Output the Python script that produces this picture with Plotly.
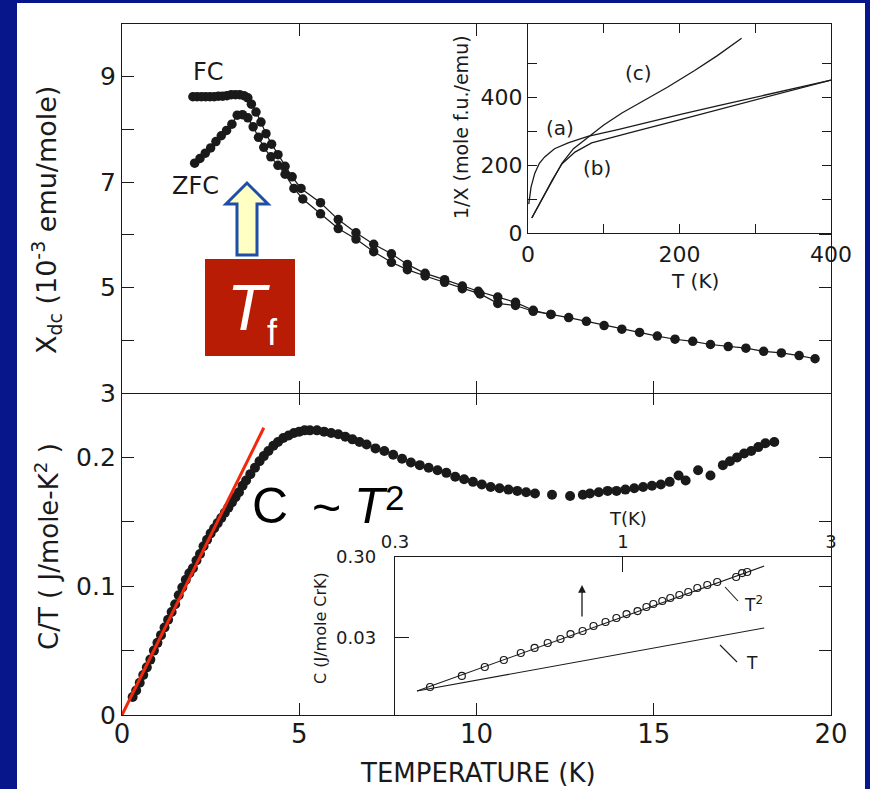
import math
import plotly.graph_objects as go

W, H = 870, 789


def px(x):
    return x / W


def py(y):
    return 1 - y / H


# ---------------- data ----------------
# upper panel: dc susceptibility (10^-3 emu/mole)
fc_T = [2.0, 2.12, 2.24, 2.36, 2.48, 2.6, 2.72, 2.84, 2.96, 3.08, 3.2, 3.32, 3.44, 3.55,
        3.65, 3.78, 3.92, 4.06, 4.22, 4.4, 4.6, 4.8, 5.05, 5.6, 6.1, 6.6, 7.1, 7.6, 8.05,
        8.55, 9.1, 9.6, 10.05, 10.6, 11.1, 11.6, 12.1, 12.6, 13.1, 13.6, 14.1, 14.6, 15.1,
        15.6, 16.1, 16.6, 17.1, 17.6, 18.1, 18.6, 19.1, 19.55]
fc_chi = [8.62, 8.62, 8.62, 8.62, 8.62, 8.62, 8.63, 8.63, 8.64, 8.66, 8.66, 8.66, 8.64, 8.6,
          8.48, 8.33, 8.14, 7.92, 7.72, 7.52, 7.3, 7.1, 6.88, 6.61, 6.29, 6.04, 5.82, 5.64, 5.44,
          5.27, 5.15, 5.03, 4.93, 4.82, 4.72, 4.57, 4.49, 4.43, 4.36, 4.28, 4.21, 4.15, 4.08,
          4.02, 3.98, 3.92, 3.88, 3.85, 3.79, 3.76, 3.71, 3.65]
zfc_T = [2.05, 2.2, 2.35, 2.5, 2.65, 2.8, 2.95, 3.1, 3.25, 3.4, 3.55, 3.7, 3.85, 4.0, 4.2,
         4.4, 4.6, 4.85, 5.1, 5.6, 6.1, 6.6, 7.1, 7.6, 8.05, 8.55, 9.1, 9.6, 10.1, 10.6,
         11.1, 11.6, 12.1]
zfc_chi = [7.36, 7.45, 7.55, 7.65, 7.77, 7.88, 7.98, 8.1, 8.27, 8.28, 8.22, 8.05, 7.85, 7.66,
           7.48, 7.32, 7.15, 6.88, 6.68, 6.4, 6.12, 5.92, 5.68, 5.48, 5.34, 5.22, 5.1, 4.98,
           4.88, 4.7, 4.66, 4.55, 4.49]

# lower panel: C/T (J/mole-K^2)
ct_T = [0.3, 0.4, 0.5, 0.6, 0.7, 0.8, 0.9, 1.0, 1.1, 1.2, 1.3, 1.4, 1.5, 1.6, 1.7, 1.8,
        1.9, 2.0, 2.1, 2.2, 2.3, 2.4, 2.5, 2.6, 2.7, 2.8, 2.9, 3.0, 3.1, 3.2, 3.3, 3.4, 3.5,
        3.62, 3.75, 3.88, 4.0, 4.13, 4.27, 4.4, 4.55, 4.7, 4.85, 5.0, 5.15, 5.3, 5.5, 5.7,
        5.9, 6.1, 6.3, 6.5, 6.7, 6.9, 7.15, 7.4, 7.65, 7.9, 8.15, 8.4, 8.65, 8.9, 9.15, 9.4,
        9.65, 9.9, 10.15, 10.4, 10.65, 10.9, 11.15, 11.4, 11.65, 12.13, 12.64, 13.0, 13.2,
        13.45, 13.7, 13.95, 14.2, 14.45, 14.7, 14.95, 15.2, 15.45, 15.7, 15.9, 16.25, 16.6,
        16.95, 17.15, 17.35, 17.55, 17.75, 17.95, 18.15, 18.4]
ct_val = [0.014, 0.019, 0.025, 0.031, 0.037, 0.043, 0.05, 0.056, 0.062, 0.068, 0.074, 0.08,
          0.086, 0.093, 0.099, 0.105, 0.11, 0.114, 0.12, 0.125, 0.131, 0.136, 0.141, 0.145,
          0.149, 0.153, 0.157, 0.161, 0.165, 0.169, 0.173, 0.178, 0.182, 0.187, 0.192, 0.197,
          0.201, 0.205, 0.209, 0.212, 0.215, 0.217, 0.219, 0.22, 0.221, 0.221, 0.221, 0.22,
          0.219, 0.218, 0.216, 0.214, 0.212, 0.21, 0.207, 0.205, 0.202, 0.199, 0.196, 0.194,
          0.192, 0.19, 0.188, 0.185, 0.183, 0.181, 0.179, 0.177, 0.176, 0.175, 0.174, 0.173,
          0.172, 0.171, 0.17, 0.171, 0.172, 0.173, 0.174, 0.174, 0.175, 0.176, 0.177, 0.178,
          0.179, 0.181, 0.186, 0.182, 0.19, 0.186, 0.194, 0.197, 0.2, 0.203, 0.205, 0.208,
          0.211, 0.212]
fit_T = [0.0, 4.0]
fit_ct = [0.0, 0.223]

# upper inset: 1/X (mole f.u./emu) vs T (K)
a_T = [1, 4, 9, 15, 22, 35, 53, 79, 120, 160, 200, 250, 300, 350, 400]
a_inv = [85, 135, 176, 205, 224, 248, 265, 284, 305, 327, 348, 374, 400, 425, 450]
b_T = [5, 18, 32, 45, 62, 84, 100, 140, 200, 250, 300, 350, 400]
b_inv = [44, 97, 156, 204, 238, 265, 274, 298, 333, 362, 392, 421, 450]
c_T = [5, 18, 32, 45, 60, 79, 100, 124, 150, 184, 220, 250, 282]
c_inv = [44, 97, 156, 206, 248, 282, 318, 353, 385, 429, 478, 522, 573]

# lower inset: C (J/mole CrK) vs T (K), log-log
low_T = [0.361, 0.427, 0.482, 0.533, 0.583, 0.627, 0.672, 0.719, 0.758, 0.808, 0.856,
         0.912, 0.966, 1.019, 1.08, 1.132, 1.174, 1.231, 1.284, 1.347, 1.412, 1.481, 1.561,
         1.645, 1.818, 1.876, 1.927]
low_C = [0.00745, 0.0102, 0.01315, 0.01604, 0.01959, 0.02259, 0.02602, 0.02917, 0.03357,
         0.03659, 0.04217, 0.04728, 0.05297, 0.05929, 0.06457, 0.07244, 0.07888, 0.0859,
         0.09354, 0.1019, 0.1109, 0.1242, 0.1353, 0.1473, 0.1698, 0.1901, 0.1959]
t2_T = [0.337, 2.108]
t2_C = [0.00665, 0.232]
t1_T = [0.337, 2.108]
t1_C = [0.00665, 0.0399]

# ---------------- figure ----------------
INK = "#1a1a1a"
SCAN = "DejaVu Sans"
ARIAL = "Liberation Sans"

fig = go.Figure()

dot = dict(size=9.5, color=INK)
fig.add_trace(go.Scatter(x=fc_T, y=fc_chi, mode="lines+markers", xaxis="x2", yaxis="y2",
                         marker=dot, line=dict(color=INK, width=1.2)))
fig.add_trace(go.Scatter(x=zfc_T, y=zfc_chi, mode="lines+markers", xaxis="x2", yaxis="y2",
                         marker=dot, line=dict(color=INK, width=1.2)))
fig.add_trace(go.Scatter(x=ct_T, y=ct_val, mode="markers", xaxis="x", yaxis="y",
                         marker=dict(size=10, color=INK)))
fig.add_trace(go.Scatter(x=fit_T, y=fit_ct, mode="lines", xaxis="x", yaxis="y",
                         line=dict(color="#f2280c", width=3)))

for tx, ty in [(a_T, a_inv), (b_T, b_inv), (c_T, c_inv)]:
    fig.add_trace(go.Scatter(x=tx, y=ty, mode="lines", xaxis="x4", yaxis="y4",
                             line=dict(color=INK, width=1.3)))

fig.add_trace(go.Scatter(x=t2_T, y=t2_C, mode="lines", xaxis="x5", yaxis="y5",
                         line=dict(color=INK, width=1.1)))
fig.add_trace(go.Scatter(x=t1_T, y=t1_C, mode="lines", xaxis="x5", yaxis="y5",
                         line=dict(color=INK, width=1.1)))
fig.add_trace(go.Scatter(x=low_T, y=low_C, mode="markers", xaxis="x5", yaxis="y5",
                         marker=dict(symbol="circle-open", size=7, color=INK,
                                     line=dict(width=1.2, color=INK))))

# dummy traces so overlay tick axes get drawn
fig.add_trace(go.Scatter(x=[None], y=[None], xaxis="x2", yaxis="y3", hoverinfo="skip"))
fig.add_trace(go.Scatter(x=[None], y=[None], xaxis="x3", yaxis="y2", hoverinfo="skip"))
fig.add_trace(go.Scatter(x=[None], y=[None], xaxis="x6", yaxis="y", hoverinfo="skip"))

common = dict(showgrid=False, zeroline=False, linecolor=INK, linewidth=1.4,
              tickcolor=INK, tickwidth=1.4, ticks="inside", automargin=False)
xdom = [px(122), px(831)]

fig.update_layout(
    width=W, height=H, margin=dict(l=0, r=0, t=0, b=0, pad=0, autoexpand=False),
    paper_bgcolor="#08168c", plot_bgcolor="rgba(0,0,0,0)",
    showlegend=False,
    font=dict(family=SCAN, color=INK),
    xaxis=dict(domain=xdom, anchor="y", range=[0, 20], tickvals=[0, 5, 10, 15, 20],
               ticklen=12, showline=True, mirror=False, ticklabelstandoff=-4,
               tickfont=dict(size=26, family=SCAN, color=INK), **common),
    xaxis6=dict(overlaying="x", side="top", anchor="y", range=[0, 20],
                tickvals=[5, 10, 15], ticklen=12, showline=False, showticklabels=False,
                **common),
    yaxis=dict(domain=[py(715), py(393)], anchor="x", range=[0, 0.25],
               tickvals=[0, 0.05, 0.1, 0.15, 0.2], ticktext=["0", "", "0.1", "", "0.2"],
               ticklen=12, showline=True, mirror="ticks", ticklabelstandoff=0,
               tickfont=dict(size=25, family=SCAN, color=INK), **common),
    xaxis2=dict(domain=xdom, anchor="y2", range=[0, 20], tickvals=[5, 10, 15],
                ticklen=12, showline=True, mirror=True, showticklabels=False, **common),
    yaxis2=dict(domain=[py(393), py(24)], anchor="x2", range=[3, 10],
                tickvals=[3, 4, 5, 6, 7, 8, 9], ticktext=["3", "", "5", "", "7", "", "9"],
                ticklen=12, showline=True, mirror=True, ticklabelstandoff=0,
                tickfont=dict(size=25, family=SCAN, color=INK), **common),
    yaxis3=dict(overlaying="y2", side="right", anchor="x2", range=[3, 10],
                tickvals=[4, 5, 6], ticklen=12, showline=False, showticklabels=False,
                **common),
    xaxis3=dict(overlaying="x2", side="top", anchor="y2", range=[0, 20],
                tickvals=[5, 10], ticklen=12, showline=False, showticklabels=False,
                **common),
    xaxis4=dict(domain=[px(528), px(831)], anchor="y4", range=[0, 400],
                tickvals=[0, 100, 200, 300, 400], ticktext=["0", "", "200", "", "400"],
                ticklen=9, showline=True, mirror="ticks", ticklabelstandoff=1,
                tickfont=dict(size=22, family=SCAN, color=INK), **common),
    yaxis4=dict(domain=[py(233), py(24)], anchor="x4", range=[0, 615],
                tickvals=[0, 100, 200, 300, 400, 500],
                ticktext=["0", "", "200", "", "400", ""],
                ticklen=9, showline=True, mirror="ticks", ticklabelstandoff=0,
                tickfont=dict(size=22, family=SCAN, color=INK), **common),
    xaxis5=dict(type="log", domain=[px(395), px(831)], anchor="y5", side="top",
                range=[math.log10(0.3), math.log10(3)], tickvals=[0.3, 1, 3],
                ticktext=["0.3", "1", "3"], ticklen=15, showline=True, mirror=True,
                ticklabelstandoff=1,
                tickfont=dict(size=18, family=SCAN, color=INK), **common),
    yaxis5=dict(type="log", domain=[py(715), py(557)], anchor="x5",
                range=[math.log10(0.00336), math.log10(0.3)], tickvals=[0.3, 0.03],
                ticktext=["0.30", "0.03"], ticklen=14, showline=True, mirror=True,
                ticklabelstandoff=14,
                tickfont=dict(size=18, family=SCAN, color=INK), **common),
)

shapes = []
# white page on blue frame
shapes.append(dict(type="rect", xref="paper", yref="paper", x0=px(17), x1=px(865),
                   y0=py(789), y1=py(3), fillcolor="white", line=dict(width=0),
                   layer="below"))
# T_f box
shapes.append(dict(type="rect", xref="paper", yref="paper", x0=px(205), x1=px(295),
                   y0=py(356), y1=py(259), fillcolor="#b81c04", line=dict(width=0),
                   layer="above"))
# block arrow
pts = [(237, 255), (257, 255), (257, 204), (268, 204), (247, 183), (226, 204), (237, 204)]
path = "M " + " L ".join(f"{px(x):.5f},{py(y):.5f}" for x, y in pts) + " Z"
shapes.append(dict(type="path", xref="paper", yref="paper", path=path,
                   fillcolor="#ffffc4", line=dict(color="#1f4ea6", width=3),
                   layer="above"))
# leader lines in lower inset
for (x0, y0, x1, y1) in [(725, 587, 738, 601), (720, 645, 737, 662)]:
    shapes.append(dict(type="line", xref="paper", yref="paper", x0=px(x0), y0=py(y0),
                       x1=px(x1), y1=py(y1), line=dict(color=INK, width=1.1)))
fig.update_layout(shapes=shapes)


def ann(x, y, text, size, family=SCAN, color=INK, angle=0, xanchor="center", **kw):
    fig.add_annotation(x=px(x), y=py(y), xref="paper", yref="paper", text=text,
                       showarrow=False, textangle=angle, xanchor=xanchor, yanchor="middle",
                       font=dict(size=size, family=family, color=color), **kw)


ann(478, 773, "TEMPERATURE (K)", 26)
ann(47, 220, "X<sub>dc</sub> (10<sup>-3</sup> emu/mole)", 27, angle=-90)
ann(47, 547, "C/T ( J/mole-K<sup>2</sup> )", 26, angle=-90)
ann(461, 127, "1/X (mole f.u./emu)", 19, angle=-90)
ann(695, 281, "T (K)", 20)
ann(638, 73, "(c)", 20)
ann(560, 128, "(a)", 20)
ann(597, 168, "(b)", 20)
ann(208, 72, "FC", 24)
ann(195, 186, "ZFC", 24)
ann(628, 518, "T(K)", 18)
ann(320, 628, "C (J/mole CrK)", 16, angle=-90)
ann(753, 604, "T<sup>2</sup>", 17)
ann(752, 663, "T", 17)
ann(270, 506, "C", 50, family=ARIAL, color="black")
ann(326, 508, "~", 50, family=ARIAL, color="black")
ann(371, 506, "<i>T</i>", 50, family=ARIAL, color="black")
ann(394, 498, "2", 35, family=ARIAL, color="black")
ann(248, 308, "<i>T</i>", 64, family=ARIAL, color="white")
ann(272, 333, "f", 36, family=ARIAL, color="white")

# small up-arrow in lower inset
fig.add_annotation(x=px(582), y=py(585), xref="paper", yref="paper", text="",
                   showarrow=True, ax=0, ay=33, arrowhead=2, arrowsize=1.2,
                   arrowwidth=1.3, arrowcolor=INK)

fig.write_html("out.html")
